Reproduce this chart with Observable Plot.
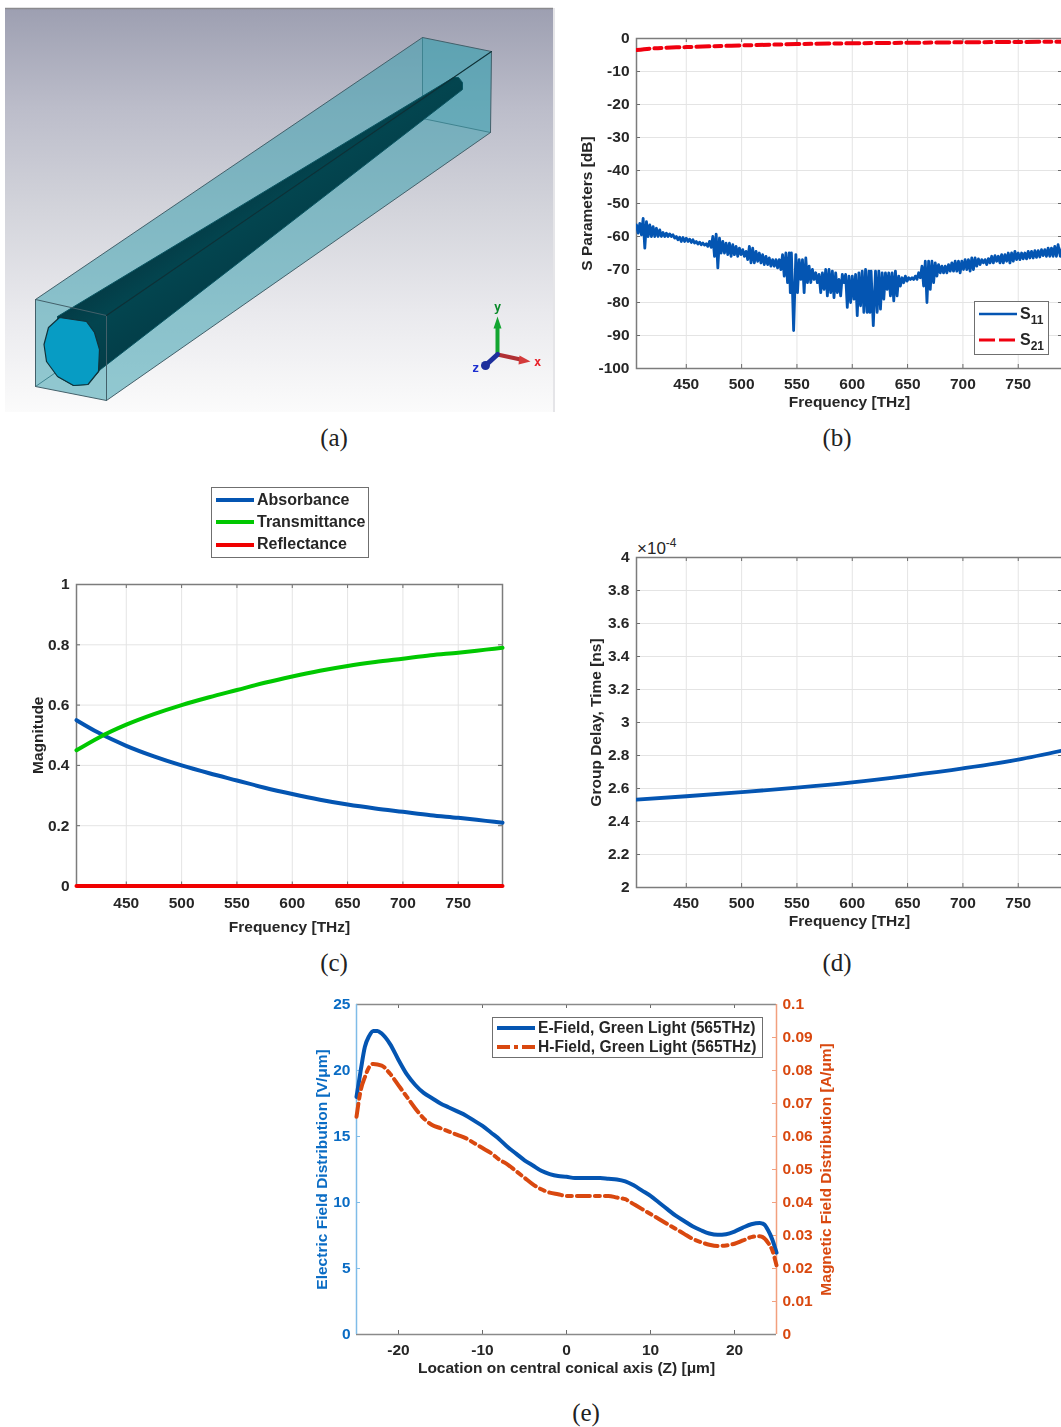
<!DOCTYPE html>
<html><head><meta charset="utf-8">
<script src="https://cdn.jsdelivr.net/npm/d3@7"></script>
<script src="https://cdn.jsdelivr.net/npm/@observablehq/plot@0.6"></script>
<style>
html,body{margin:0;padding:0;background:#fff;overflow:hidden;width:1061px;height:1427px}
#page{position:relative;width:1061px;height:1427px;overflow:hidden;font-family:"Liberation Sans",Arial,sans-serif;color:#262626}
.cap{position:absolute;font-family:"Liberation Serif",serif;font-size:25px;color:#222;transform:translate(-50%,-50%);white-space:nowrap}
.legend{position:absolute;background:#fff;border:1.5px solid #6f6f6f;box-sizing:border-box;font-weight:bold;filter:blur(.3px)}
.legend svg{position:absolute;overflow:visible}
.legend span{position:absolute}
sub{font-size:12px;vertical-align:-5px;line-height:0}
sup{font-size:12px;vertical-align:7px;line-height:0}
</style></head><body><div id="page"></div>
<script>
// ---------- shared ticks ----------
const freqTicks = [450,500,550,600,650,700,750];
const freqLabel = "Frequency [THz]";
const freqDomain = [405,790];

// ---------- panel (b) S-parameters ----------
const s11Freq = [405,408,411,414,417,420,423,426,429,432,435,438,441,444,447,450,453,456,459,462,465,468,471,474,477,480,483,486,489,492,495,498,501,504,507,510,513,516,519,522,525,528,531,534,537,540,543,545,549,552,555,558,561,564,567,570,573,576,579,582,585,588,591,594,597,600,603,606,609,612,615,617,621,624,627,630,633,636,639,642,645,648,651,654,657,660,663,666,669,672,675,678,681,684,687,690,693,696,699,702,705,708,711,714,717,720,723,726,729,732,735,738,741,744,747,750,753,756,759,762,765,768,771,774,777,780,783,786,790];
const s11Upper = [-56.5,-56,-54.5,-55.5,-56.5,-57,-57.5,-58,-58.8,-59,-59.2,-59.5,-60,-60.2,-60.3,-60.5,-60.8,-61,-61.5,-61.7,-62,-62.2,-61.5,-60,-59.3,-60.5,-61.5,-62,-62,-62.5,-63,-63.5,-64,-64.5,-63,-63.5,-64.5,-65,-65.5,-66,-66.5,-67,-67,-67,-65.5,-65,-65,-65,-65.5,-67,-67,-66.5,-69,-70,-71,-71.5,-71,-70,-70,-70.5,-71,-73,-71.5,-71.5,-72,-72,-71.5,-71,-70.5,-70,-70.5,-70.5,-70.5,-70.5,-71,-71,-71,-71,-70.5,-72,-72.5,-72,-72.5,-72.5,-72,-71,-69,-67.5,-67.5,-67.5,-68,-68.5,-69,-69,-68.5,-68,-67.5,-67.5,-67.5,-67,-67,-66.5,-66.5,-66.8,-67,-67,-66.7,-66,-65.8,-66,-65.5,-65.5,-65,-65,-64.5,-65,-65,-65,-64.5,-64.5,-64.3,-64.3,-64,-64,-63.5,-63.5,-63,-62.5,-63];
const s11Lower = [-59,-59.5,-63.5,-60,-60,-60,-60,-60,-60,-60,-60,-60.5,-61,-61.5,-61.5,-61.5,-61.8,-62,-62.3,-62.5,-62.6,-63,-63.3,-66,-69.5,-65,-65,-65.5,-66,-65.5,-66,-65.5,-66,-67,-68,-68,-67.5,-68,-68.5,-68.5,-69,-69,-69.5,-70,-72,-74,-77,-88.5,-77,-73,-77,-74,-74,-73,-74,-77,-76,-78,-77,-78.5,-77,-78,-74,-81.5,-80,-79,-84,-81,-83,-83,-83,-87,-83,-82,-79,-76,-78,-79.5,-78,-75,-74,-73.5,-73,-73,-73,-72.5,-75,-80,-76,-74,-72,-71,-71,-71,-70.5,-70.5,-70.5,-71,-70,-70,-70.5,-70,-69,-68.5,-68,-68.5,-68,-68,-67.5,-68,-68,-67.5,-68,-67.5,-67,-67,-66.8,-66.8,-66.5,-66.5,-66.3,-66.2,-65.8,-66,-66,-66,-66,-66,-65.5];
const s21Freq = [405,420,450,500,550,600,650,700,750,790];
const s21Values = [-3.5,-3.0,-2.6,-2.1,-1.7,-1.45,-1.3,-1.15,-1.05,-0.95];

// ---------- panel (c) ----------
const coefFreq = [405,425,450,475,500,525,550,575,600,625,650,675,700,725,750,775,790];
const absorbance = [.55,.508,.465,.43,.40,.374,.35,.326,.305,.286,.27,.257,.246,.235,.226,.216,.21];
const transmittance = [.45,.492,.535,.57,.60,.626,.65,.674,.695,.714,.73,.743,.754,.765,.774,.784,.79];
const reflectance = coefFreq.map(() => 0);

// ---------- panel (d) ----------
const delayFreq = [405,450,500,550,600,650,700,750,790];
const delayValues = [2.533,2.553,2.578,2.605,2.637,2.677,2.722,2.775,2.83];

// ---------- panel (e) ----------
const zEField = [-25,-24.5,-24,-23.5,-23,-22.5,-22,-21,-20,-19,-18,-17,-16,-15,-14,-13,-12,-11,-10,-9,-8,-7,-6,-5,-4,-3,-2,-1,0,1,2,3,4,5,6,7,8,9,10,11,12,13,14,15,16,17,18,19,20,21,22,23,23.5,24,24.5,25];
const eField = [18,20,21.8,22.6,23,23,22.8,22,20.8,19.7,18.9,18.3,17.9,17.5,17.2,16.9,16.6,16.2,15.8,15.3,14.8,14.2,13.7,13.2,12.8,12.4,12.15,12,11.95,11.85,11.85,11.85,11.85,11.8,11.75,11.6,11.3,10.9,10.5,10,9.5,9,8.6,8.2,7.9,7.65,7.55,7.6,7.8,8.1,8.35,8.45,8.35,7.9,7.2,6.2];
const zHField = [-25,-24.5,-24,-23.5,-23,-22,-21,-20,-19,-18,-17,-16,-15,-14,-13,-12,-11,-10,-9,-8,-7,-6,-5,-4,-3,-2,-1,0,1,2,3,4,5,6,7,8,9,10,11,12,13,14,15,16,17,18,19,20,21,22,23,24,24.5,25];
const hField = [.066,.074,.078,.081,.082,.0815,.079,.0755,.072,.0685,.0655,.0635,.0625,.0615,.0605,.0595,.058,.0565,.055,.053,.0515,.0495,.0475,.0455,.044,.043,.0425,.042,.042,.042,.042,.042,.042,.0415,.041,.0395,.038,.0365,.035,.0335,.032,.0305,.029,.028,.0272,.0268,.027,.0275,.0285,.0295,.0298,.0278,.0255,.021];
const hAxisMax = 0.1, eAxisMax = 25;

// ---------- panel (a) illustration, in picture units ----------
const boxHull = [[35,299],[422,37],[491,51],[490,132],[106,400],[35,386]];
const farFace = [[422,37],[491,51],[490,132],[422,118]];
const hiddenEdges = [[[422,37],[422,118]],[[422,118],[490,132]],[[35,386],[422,118]]];
const frontEdges = [[[35,299],[106,315],[106,400],[35,386],[35,299]],[[35,299],[422,37],[491,51],[490,132],[106,400]]];
const topBackEdge = [[106,315],[491,51]];
const coneBody = [[57,316],[453,77],[458,77],[462,82],[462,89],[100,369],[87,384],[73,385],[57,376]];
const coneFace = [[59,317],[86,321],[94,332],[99,349],[98,371],[87.5,384],[73,385],[57,376],[46,361],[43.5,344],[48,327]];
const arrowY = [[497,354],[497,327]];
const arrowYHead = [[493,328],[497,316],[501,328]];
const arrowX = [[497,354],[520,359]];
const arrowXHead = [[519,355],[530,361],[518,364]];
const arrowZ = [[497,354],[486,364]];
const zBlob = [[485,365]];
const axisLetters = [{t:"y",c:"#0a8a2a",p:[497,307]},{t:"x",c:"#e8222a",p:[537,362]},{t:"z",c:"#1c2ed0",p:[475,368]}];

const page = document.getElementById("page");
const FONT = '"Liberation Sans",Arial,sans-serif';

function place(svg,left,top,extra=""){
  svg.style.cssText += `;position:absolute;left:${left}px;top:${top}px;overflow:visible;background:none;max-width:none;${extra}`;
  page.appendChild(svg);
}
function caption(t,x,y){const d=document.createElement("div");d.className="cap";d.textContent=t;d.style.left=x+"px";d.style.top=y+"px";page.appendChild(d);}

// ---------- (a) ----------
function defsMark(){
  const g=document.createElementNS("http://www.w3.org/2000/svg","g");
  g.innerHTML=`<defs>
  <linearGradient id="bg" x1="0" y1="0" x2="0" y2="1">
   <stop offset="0" stop-color="#9d9fb1"/><stop offset=".25" stop-color="#bcbdca"/>
   <stop offset=".5" stop-color="#d3d4db"/><stop offset=".75" stop-color="#e9e9ed"/><stop offset="1" stop-color="#fbfbfb"/>
  </linearGradient>
  <linearGradient id="cone" gradientUnits="userSpaceOnUse" x1="220" y1="180" x2="280" y2="270">
   <stop offset="0" stop-color="#04343f"/><stop offset=".45" stop-color="#03454f"/><stop offset="1" stop-color="#033b46"/>
  </linearGradient></defs>`;
  return g;
}
const closed = p => [...p,p[0]];
const poly = (p,o) => Plot.line(closed(p),{x:d=>d[0],y:d=>d[1],...o});
const seg = (p,o) => Plot.line(p,{x:d=>d[0],y:d=>d[1],...o});
const edgeColor="#43606a";
place(Plot.plot({
  width:556,height:416,margin:0,
  x:{domain:[0,556],axis:null},y:{domain:[416,0],axis:null},
  marks:[
    defsMark,
    Plot.rect([{}],{x1:5,x2:553,y1:8,y2:412,fill:"url(#bg)"}),
    Plot.ruleY([8],{x1:5,x2:553,stroke:"#8a8a8e",strokeWidth:1.5}),
    Plot.ruleX([553.5],{y1:8,y2:412,stroke:"#dcdce0",strokeWidth:1.5}),
    poly(farFace,{fill:"#2f9ab0",fillOpacity:.25,stroke:"none"}),
    ...hiddenEdges.map(e=>seg(e,{stroke:edgeColor,strokeWidth:1})),
    poly(boxHull,{fill:"#3ca0af",fillOpacity:.55,stroke:"none"}),
    poly(coneBody,{fill:"url(#cone)",stroke:"#0a5562",strokeWidth:1}),
    ...frontEdges.map(e=>seg(e,{stroke:edgeColor,strokeWidth:1})),
    seg(topBackEdge,{stroke:"#0e3036",strokeWidth:1.1}),
    poly(coneFace,{fill:"#079cc4",stroke:"#10323a",strokeWidth:1.2}),
    seg(arrowY,{stroke:"#12a530",strokeWidth:4}),
    poly(arrowYHead,{fill:"#12a530",stroke:"none"}),
    seg(arrowX,{stroke:"#b03034",strokeWidth:4}),
    poly(arrowXHead,{fill:"#d43a3a",stroke:"none"}),
    seg(arrowZ,{stroke:"#1d2f9c",strokeWidth:5}),
    Plot.dot(zBlob,{x:d=>d[0],y:d=>d[1],r:4.5,fill:"#1d2f9c"}),
    Plot.text(axisLetters,{x:d=>d.p[0],y:d=>d.p[1],text:"t",fill:"c",fontSize:12,fontWeight:"bold",fontFamily:"DejaVu Sans Mono, monospace"})
  ],
  color:{type:"identity"}
}),0,0,"filter:blur(.7px);");

// ---------- generic MATLAB-like panel ----------
function panel({left,top,right,bottom,xDom,yDom,xTicks,yTicks,xLabel,yLabel,yFmt,marks,xOff=38,yOff,xPad=9,fontSize=15.5}){
  const mL=70,mR=4,mT=12,mB=50;
  const yd=yDom[1]-yDom[0], xd=xDom[1]-xDom[0];
  const ty=yd*4/(bottom-top), tx=xd*4/(right-left);
  return place(Plot.plot({
    width:right-left+mL+mR,height:bottom-top+mT+mB,
    marginLeft:mL,marginRight:mR,marginTop:mT,marginBottom:mB,
    x:{domain:xDom,axis:null},y:{domain:yDom,axis:null},
    style:{fontFamily:FONT,fontSize:fontSize+"px",fontWeight:"bold",color:"#262626"},
    marks:[
      Plot.gridX(xTicks,{stroke:"#e4e4e4",strokeOpacity:1}),
      Plot.gridY(yTicks,{stroke:"#e4e4e4",strokeOpacity:1}),
      Plot.ruleX(xTicks,{y1:yDom[0],y2:yDom[0]+ty,stroke:"#6a6a6a"}),
      Plot.ruleX(xTicks,{y1:yDom[1],y2:yDom[1]-ty,stroke:"#6a6a6a"}),
      Plot.ruleY(yTicks,{x1:xDom[0],x2:xDom[0]+tx,stroke:"#6a6a6a"}),
      Plot.ruleY(yTicks,{x1:xDom[1],x2:xDom[1]-tx,stroke:"#6a6a6a"}),
      Plot.frame({stroke:"#7c7c7c",strokeWidth:1.5}),
      Plot.axisX({ticks:xTicks,tickSize:0,tickPadding:xPad,label:xLabel,labelAnchor:"center",labelArrow:"none",labelOffset:xOff,fontWeight:"bold"}),
      Plot.axisY({ticks:yTicks,tickSize:0,tickPadding:7,tickFormat:yFmt,label:yLabel,labelAnchor:"center",labelArrow:"none",labelOffset:yOff,fontWeight:"bold"}),
      ...marks
    ]
  }),left-mL,top-mT,"filter:blur(.3px);");
}
const zipT = (xs,ys) => xs.map((x,i)=>({x,y:ys[i]}));

// (b)
const s11Zigzag = s11Freq.flatMap((f,i)=>[{x:f,y:s11Upper[i]},{x:f+(i<s11Freq.length-1?(s11Freq[i+1]-f)/2:0),y:s11Lower[i]}]);
panel({left:636,top:37.5,right:1062,bottom:367.5,xDom:freqDomain,yDom:[-100,0],
  xTicks:freqTicks,yTicks:d3.range(-100,1,10),xLabel:freqLabel,yLabel:"S Parameters [dB]",yOff:56,yFmt:d=>String(d).replace("−","-"),
  marks:[
    Plot.line(s11Zigzag,{x:"x",y:"y",stroke:"#0455b2",strokeWidth:2.8,strokeLinejoin:"round",clip:true}),
    Plot.line(zipT(s21Freq,s21Values),{x:"x",y:"y",stroke:"#f0000f",strokeWidth:4,strokeDasharray:"13 5 7 5",curve:"monotone-x",clip:true})
  ]});

// (c)
panel({left:76,top:584,right:502,bottom:885.5,xDom:freqDomain,yDom:[0,1],xOff:46,xPad:11,
  xTicks:freqTicks,yTicks:[0,.2,.4,.6,.8,1],xLabel:freqLabel,yLabel:"Magnitude",yOff:45,yFmt:d=>String(d),
  marks:[
    Plot.line(zipT(coefFreq,absorbance),{x:"x",y:"y",stroke:"#0455b2",strokeWidth:4,curve:"monotone-x"}),
    Plot.line(zipT(coefFreq,transmittance),{x:"x",y:"y",stroke:"#00c800",strokeWidth:4,curve:"monotone-x"}),
    Plot.line(zipT(coefFreq,reflectance),{x:"x",y:"y",stroke:"#f00000",strokeWidth:4})
  ]});

// (d)
panel({left:636,top:557,right:1062,bottom:887,xDom:freqDomain,yDom:[2,4],
  xTicks:freqTicks,yTicks:d3.range(2,4.01,.2).map(v=>+v.toFixed(1)),xLabel:freqLabel,yLabel:"Group Delay, Time [ns]",yOff:47,yFmt:d=>String(d),
  marks:[Plot.line(zipT(delayFreq,delayValues),{x:"x",y:"y",stroke:"#0455b2",strokeWidth:3.8,curve:"monotone-x",clip:true})]});

// (e)
(function(){
  const left=356,right=776,top=1004,bottom=1334,mL=70,mR=80,mT=12,mB=50;
  const xT=[-20,-10,0,10,20], yT=[0,5,10,15,20,25], hT=d3.range(0,10.01,1).map(i=>i*2.5);
  const blue="#0a6cc4", orange="#d9480f", tk=25*4/330, tkx=50*4/420;
  place(Plot.plot({
    width:right-left+mL+mR,height:bottom-top+mT+mB,marginLeft:mL,marginRight:mR,marginTop:mT,marginBottom:mB,
    x:{domain:[-25,25],axis:null},y:{domain:[0,eAxisMax],axis:null},
    style:{fontFamily:FONT,fontSize:"15.5px",fontWeight:"bold",color:"#262626"},
    marks:[
      Plot.ruleX(xT,{y1:0,y2:tk,stroke:"#6a6a6a"}),
      Plot.ruleX(xT,{y1:25,y2:25-tk,stroke:"#6a6a6a"}),
      Plot.ruleY(yT,{x1:-25,x2:-25+tkx,stroke:"#7fbce8"}),
      Plot.ruleY(hT,{x1:25,x2:25-tkx,stroke:"#f2a07e"}),
      Plot.ruleY([0,25],{stroke:"#8a8a8a",strokeWidth:1.5}),
      Plot.ruleX([-25],{stroke:"#7fbce8",strokeWidth:1.5}),
      Plot.ruleX([25],{stroke:"#f2a07e",strokeWidth:1.5}),
      Plot.axisX({ticks:xT,tickSize:0,tickPadding:9,label:"Location on central conical axis (Z) [μm]",labelAnchor:"center",labelArrow:"none",labelOffset:38,tickFormat:d=>String(d),fontWeight:"bold"}),
      Plot.axisY({ticks:yT,tickSize:0,tickPadding:6,color:blue,label:"Electric Field Distribution [V/μm]",labelAnchor:"center",labelArrow:"none",labelOffset:41,fontWeight:"bold",tickFormat:d=>String(d)}),
      Plot.axisY({anchor:"right",ticks:hT,tickSize:0,tickPadding:6,color:orange,label:"Magnetic Field Distribution [A/μm]",labelAnchor:"center",labelArrow:"none",labelOffset:54,fontWeight:"bold",tickFormat:d=>String(+(d/eAxisMax*hAxisMax).toFixed(2))}),
      Plot.line(zipT(zEField,eField),{x:"x",y:"y",stroke:"#0455b2",strokeWidth:4,curve:"monotone-x"}),
      Plot.line(zipT(zHField,hField.map(h=>h/hAxisMax*eAxisMax)),{x:"x",y:"y",stroke:"#d9480f",strokeWidth:4,strokeDasharray:"13 5 5 5",curve:"monotone-x"})
    ]
  }),left-mL,top-mT,"filter:blur(.3px);");
})();

// ---------- legends ----------
function legend(x,y,w,h,rows,fs){
  const d=document.createElement("div");d.className="legend";
  d.style.cssText=`left:${x}px;top:${y}px;width:${w}px;height:${h}px;font-size:${fs}px`;
  rows.forEach(r=>{
    const s=document.createElementNS("http://www.w3.org/2000/svg","svg");
    s.setAttribute("width",r.x2-r.x1);s.setAttribute("height",6);
    s.style.left=r.x1+"px";s.style.top=(r.y-3)+"px";
    const l=document.createElementNS("http://www.w3.org/2000/svg","line");
    l.setAttribute("x1",0);l.setAttribute("x2",r.x2-r.x1);l.setAttribute("y1",3);l.setAttribute("y2",3);
    l.setAttribute("stroke",r.c);l.setAttribute("stroke-width",r.w);if(r.dash)l.setAttribute("stroke-dasharray",r.dash);
    s.appendChild(l);d.appendChild(s);
    const t=document.createElement("span");t.innerHTML=r.t;t.style.left=r.tx+"px";t.style.top=(r.y-fs*.58)+"px";t.style.whiteSpace="nowrap";
    d.appendChild(t);
  });
  page.appendChild(d);
}
legend(974,301,75,54,[
  {t:"S<sub>11</sub>",c:"#0455b2",w:2.4,x1:4,x2:42,y:12,tx:45},
  {t:"S<sub>21</sub>",c:"#f0000f",w:3,dash:"16 4",x1:4,x2:42,y:38,tx:45}],16);
legend(211,487,158,71,[
  {t:"Absorbance",c:"#0455b2",w:4,x1:4,x2:42,y:12,tx:45},
  {t:"Transmittance",c:"#00c800",w:4,x1:4,x2:42,y:34,tx:45},
  {t:"Reflectance",c:"#f00000",w:4,x1:4,x2:42,y:56.5,tx:45}],16);
legend(492,1017,271,41,[
  {t:"E-Field, Green Light (565THz)",c:"#0455b2",w:4,x1:4,x2:42,y:10,tx:45},
  {t:"H-Field, Green Light (565THz)",c:"#d9480f",w:4,dash:"13 4 4 4",x1:4,x2:42,y:29,tx:45}],15.6);

// x10^-4 multiplier
const mult=document.createElement("div");
mult.innerHTML="×10<sup>-4</sup>";
mult.style.cssText="position:absolute;left:637px;top:539px;font-size:17px;font-weight:normal;color:#262626;white-space:nowrap";
page.appendChild(mult);

caption("(a)",334,438);caption("(b)",837,438);caption("(c)",334,963);caption("(d)",837,963);caption("(e)",586,1413);
</script></body></html>
